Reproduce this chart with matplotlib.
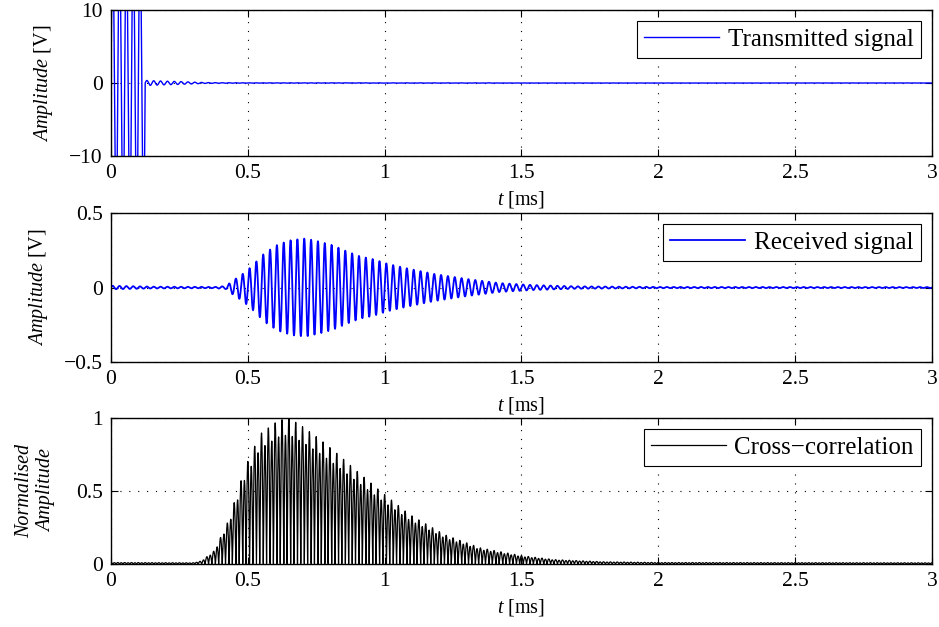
import numpy as np
import matplotlib
matplotlib.use("Agg")
import matplotlib.pyplot as plt

plt.rcParams['font.family'] = ['Liberation Serif', 'DejaVu Serif']
plt.rcParams['mathtext.fontset'] = 'custom'
plt.rcParams['mathtext.rm'] = 'Liberation Serif'
plt.rcParams['mathtext.it'] = 'Liberation Serif:italic'
plt.rcParams['font.size'] = 15

# carrier frequency (about 20 cycles per 0.5 ms), in kHz
carrier_khz = 40.0

# transmitted signal envelope [V] (burst clipped by the axis)
tx_t = [0.0, 0.125, 0.126, 0.16, 0.2, 0.25, 0.3, 0.35, 0.5, 3.0]
tx_amp = [20.0, 20.0, 0.35, 0.3, 0.25, 0.2, 0.12, 0.05, 0.02, 0.01]

# received signal envelope [V]
rx_t = [0.0, 0.15, 0.38, 0.42, 0.44, 0.48, 0.51, 0.56, 0.61, 0.66, 0.71, 0.76,
        0.81, 0.86, 0.91, 0.96, 1.01, 1.08, 1.18, 1.30, 1.42, 1.54, 1.7, 2.0, 3.0]
rx_amp = [0.012, 0.006, 0.004, 0.01, 0.04, 0.09, 0.136, 0.23, 0.29, 0.32, 0.33, 0.31,
          0.285, 0.245, 0.21, 0.19, 0.16, 0.13, 0.092, 0.058, 0.03, 0.017, 0.008, 0.004, 0.003]

# normalised cross-correlation envelope
xc_t = [0.0, 0.3, 0.33, 0.377, 0.43, 0.49, 0.545, 0.61, 0.65, 0.70, 0.766, 0.83,
        0.896, 0.99, 1.09, 1.22, 1.35, 1.5, 1.62, 1.8, 2.0, 3.0]
xc_amp = [0.01, 0.008, 0.02, 0.09, 0.3, 0.66, 0.89, 0.98, 1.0, 0.94, 0.85, 0.75,
          0.64, 0.49, 0.34, 0.2, 0.11, 0.057, 0.03, 0.015, 0.01, 0.008]
# small offset making every other peak slightly lower
xc_ridge = 0.06

t = np.arange(0, 3.0005, 0.001)
tx = np.interp(t, tx_t, tx_amp) * np.sin(2 * np.pi * carrier_khz * t)
rx = np.interp(t, rx_t, rx_amp) * np.sin(2 * np.pi * carrier_khz * t)
tc = np.arange(0, 3.0005, 0.0005)
xc = np.interp(tc, xc_t, xc_amp) * np.abs(np.cos(2 * np.pi * carrier_khz * tc) + xc_ridge) / (1 + xc_ridge)

fig = plt.figure(figsize=(9.39, 6.27), dpi=100)
ax1 = fig.add_axes([0.1182, 0.7512, 0.8743, 0.2329])
ax2 = fig.add_axes([0.1182, 0.4226, 0.8743, 0.2376])
ax3 = fig.add_axes([0.1182, 0.1005, 0.8743, 0.2329])

ax1.plot(t, tx, color='blue', lw=1.0, label='Transmitted signal')
ax2.plot(t, rx, color='blue', lw=1.3, label='Received signal')
ax3.plot(tc, xc, color='black', lw=0.9, label='Cross\u2212correlation')

ax1.set_ylim(-10, 10)
ax1.set_yticks([-10, 0, 10])
ax1.set_yticklabels(['\u221210', '0', '10'])
ax2.set_ylim(-0.5, 0.5)
ax2.set_yticks([-0.5, 0, 0.5])
ax2.set_yticklabels(['\u22120.5', '0', '0.5'])
ax3.set_ylim(0, 1)
ax3.set_yticks([0, 0.5, 1])
ax3.set_yticklabels(['0', '0.5', '1'])

ax1.set_ylabel(r'$\mathit{Amplitude}$ [V]', fontsize=14.5, labelpad=10)
ax2.set_ylabel(r'$\mathit{Amplitude}$ [V]', fontsize=14.5, labelpad=10)
ax3.set_ylabel('Normalised\nAmplitude', style='italic', fontsize=14.5,
               labelpad=14, linespacing=1.2)

for ax in (ax1, ax2, ax3):
    ax.set_xlim(0, 3)
    ax.set_xticks([0, 0.5, 1, 1.5, 2, 2.5, 3])
    ax.set_xticklabels(['0', '0.5', '1', '1.5', '2', '2.5', '3'])
    ax.set_xlabel(r'$t$ [ms]', fontsize=14.5, labelpad=4)
    ax.grid(True, color='black', linestyle=(0, (1, 7)), lw=0.8)
    ax.tick_params(direction='in', top=True, right=True, length=5, width=0.8,
                   pad=6, labelsize=15.5)
    for s in ax.spines.values():
        s.set_linewidth(1.0)
    leg = ax.legend(loc='upper right', fancybox=False, edgecolor='black',
                    framealpha=1, handlelength=3.0, handletextpad=0.35,
                    borderaxespad=0.45, borderpad=0.28, fontsize=18)
    leg.get_frame().set_linewidth(0.8)

fig.savefig('out.png', dpi=100)
